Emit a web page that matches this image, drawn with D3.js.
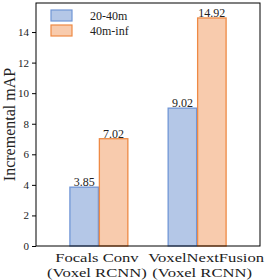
<!DOCTYPE html>
<html>
<head>
<meta charset="utf-8">
<script src="https://cdn.jsdelivr.net/npm/d3@7"></script>
<style>
  body { margin: 0; background: #fff; }
  text { font-family: "Liberation Serif", "DejaVu Serif", serif; fill: #222; }
</style>
</head>
<body>
<div id="chart"></div>
<script>
// Methods on the x axis (two lines each)
const methods = ['Focals Conv', 'VoxelNextFusion'];
const methodSub = ['(Voxel RCNN)', '(Voxel RCNN)'];
// Distance ranges
const ranges = ['20-40m', '40m-inf'];
// Incremental mAP per range
const near = [3.85, 9.02];
const far = [7.02, 14.92];
const yTicks = [0, 2, 4, 6, 8, 10, 12, 14];

const fills = ['#b4c7e7', '#f8cbad'];
const strokes = ['#7196d6', '#ee8a45'];

const W = 265, H = 280;
const margin = { top: 3, right: 5, bottom: 34, left: 36 };
const width = W - margin.left - margin.right;
const height = H - margin.top - margin.bottom;

const svg = d3.select('#chart').append('svg')
  .attr('width', W).attr('height', H);
const g = svg.append('g')
  .attr('transform', `translate(${margin.left},${margin.top})`);

const x = d3.scaleBand().domain(methods).range([0, width])
  .paddingInner(0.4).paddingOuter(0.34);
const xs = d3.scaleBand().domain(ranges).range([0, x.bandwidth()]);
const y = d3.scaleLinear().domain([0, 15.9]).range([height, 0]);

const rows = methods.map((m, i) => ({ m, vals: [near[i], far[i]] }));

// bars
const grp = g.selectAll('.grp').data(rows).enter().append('g')
  .attr('transform', d => `translate(${x(d.m)},0)`);
grp.selectAll('rect').data(d => d.vals).enter().append('rect')
  .attr('x', (d, j) => xs(ranges[j]) + 0.5)
  .attr('y', d => y(d))
  .attr('width', xs.bandwidth() - 1)
  .attr('height', d => height - y(d))
  .attr('fill', (d, j) => fills[j])
  .attr('stroke', (d, j) => strokes[j])
  .attr('stroke-width', 1.3);
grp.selectAll('.val').data(d => d.vals).enter().append('text')
  .attr('x', (d, j) => xs(ranges[j]) + xs.bandwidth() / 2)
  .attr('y', d => y(d) - 1)
  .attr('text-anchor', 'middle')
  .style('font-size', '12px')
  .text(d => d.toFixed(2));

// y axis
const yAxis = g.append('g').call(d3.axisLeft(y).tickValues(yTicks).tickSize(4).tickPadding(3));
yAxis.select('.domain').remove();
yAxis.selectAll('text').style('font-size', '11px').style('font-family', '"Liberation Serif", serif').attr('fill', '#222');

// frame
g.append('rect').attr('x', 0).attr('y', 0).attr('width', width).attr('height', height)
  .attr('fill', 'none').attr('stroke', '#000').attr('stroke-width', 1);

// x labels (stretched horizontally, as in the source figure; the second sits a bit right)
const nudge1 = [-2, 9], nudge2 = [-2, 5];
methods.forEach((m, i) => {
  const cx = x(m) + x.bandwidth() / 2;
  g.append('text').attr('transform', `translate(${cx + nudge1[i]},${height + 16}) scale(1.23,1)`)
    .attr('text-anchor', 'middle').style('font-size', '13.5px').text(m);
  g.append('text').attr('transform', `translate(${cx + nudge2[i]},${height + 30.5}) scale(1.23,1)`)
    .attr('text-anchor', 'middle').style('font-size', '13.5px').text(methodSub[i]);
});

// y label
svg.append('text')
  .attr('transform', `translate(15,${margin.top + height / 2}) rotate(-90)`)
  .attr('text-anchor', 'middle').style('font-size', '16px')
  .text('Incremental mAP');

// legend
const leg = g.selectAll('.leg').data(ranges).enter().append('g')
  .attr('transform', (d, i) => `translate(15,${7 + i * 15})`);
leg.append('rect').attr('width', 21).attr('height', 11)
  .attr('fill', (d, i) => fills[i]).attr('stroke', (d, i) => strokes[i]).attr('stroke-width', 1.2);
leg.append('text').attr('x', 39).attr('y', 10).style('font-size', '12px').text(d => d);
</script>
</body>
</html>
